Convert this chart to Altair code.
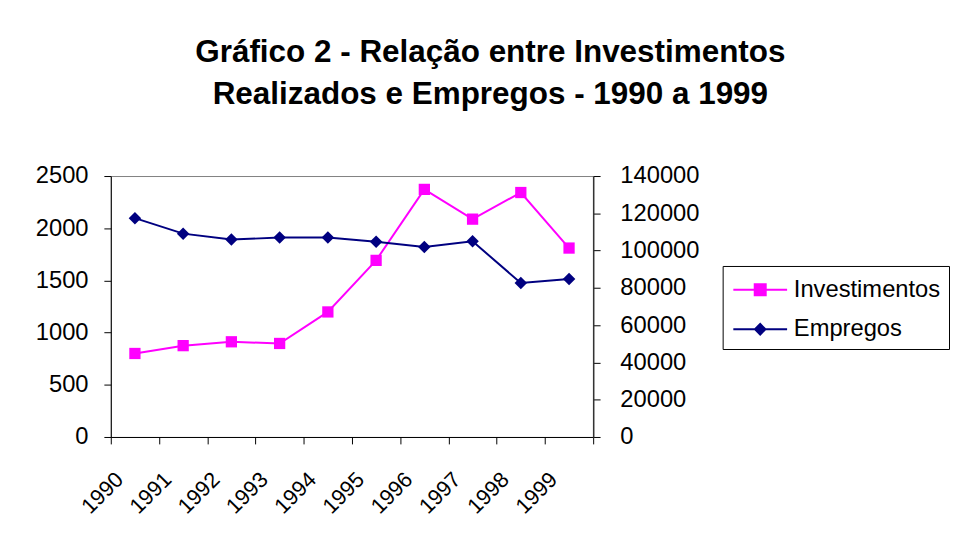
import altair as alt
import pandas as pd

anos = ["1990", "1991", "1992", "1993", "1994", "1995", "1996", "1997", "1998", "1999"]
investimentos = [800, 875, 912, 896, 1198, 1692, 2372, 2087, 2342, 1810]
empregos = [117400, 109100, 105900, 107000, 107000, 104700, 101900, 105000, 82600, 84700]
series = ["Investimentos", "Empregos"]
cores = ["#FF00FF", "#000080"]
ticks_esq = [0, 500, 1000, 1500, 2000, 2500]
ticks_dir = [0, 20000, 40000, 60000, 80000, 100000, 120000, 140000]
titulo = ["Gráfico 2 - Relação entre Investimentos", "Realizados e Empregos - 1990 a 1999"]

FONT = "Liberation Sans, Arial, sans-serif"

df = pd.DataFrame({"ano": anos, "Investimentos": investimentos, "Empregos": empregos})

x_enc = alt.X(
    "ano:O",
    sort=anos,
    bandPosition=0.5,
    scale=alt.Scale(type="band", paddingInner=0, paddingOuter=0),
    axis=alt.Axis(
        title=None,
        tickBand="extent",
        tickSize=7,
        tickColor="black",
        domainColor="black",
        labelAngle=315,
        labelAlign="right",
        labelBaseline="middle",
        labelFontSize=22,
        labelFont=FONT,
        labelColor="black",
        labelPadding=32,
        labelOffset=-16,
        grid=False,
    ),
)

base = alt.Chart(df)

inv = base.mark_line(
    color=cores[0],
    strokeWidth=2,
    point=alt.OverlayMarkDef(filled=True, shape="square", size=130, color=cores[0], opacity=1),
).encode(
    x=x_enc,
    y=alt.Y(
        "Investimentos:Q",
        scale=alt.Scale(domain=[0, 2500], nice=False),
        axis=alt.Axis(
            title=None, values=ticks_esq, format="d", orient="left",
            tickSize=7, tickColor="black", domainColor="black",
            labelFontSize=24, labelFont=FONT, labelColor="black",
            labelPadding=16, grid=False,
        ),
    ),
)

emp = base.mark_line(
    color=cores[1],
    strokeWidth=2,
    point=alt.OverlayMarkDef(filled=True, shape="diamond", size=160, color=cores[1], opacity=1),
).encode(
    x=x_enc,
    y=alt.Y(
        "Empregos:Q",
        scale=alt.Scale(domain=[0, 140000], nice=False),
        axis=alt.Axis(
            title=None, values=ticks_dir, format="d", orient="right",
            tickSize=7, tickColor="black", domainColor="#333333", domainWidth=1.5,
            labelFontSize=24, labelFont=FONT, labelColor="black",
            labelPadding=20, grid=False,
        ),
    ),
)

sym_inv = "M-1.7,-0.0625H1.7V0.0625H-1.7Z M-0.41,-0.41H0.41V0.41H-0.41Z"
sym_emp = "M-1.7,-0.0625H1.7V0.0625H-1.7Z M0,-0.42L0.42,0L0,0.42L-0.42,0Z"

legenda = alt.Legend(
    title=None,
    orient="none",
    legendX=619,
    legendY=91,
    padding=8,
    strokeColor="black",
    fillColor="white",
    symbolSize=1024,
    symbolStrokeWidth=0,
    symbolOffset=14,
    labelOffset=18,
    labelFontSize=24,
    labelFont=FONT,
    labelColor="black",
    labelLimit=400,
    rowPadding=12,
)

leg_df = pd.DataFrame({"serie": series})
leg = alt.Chart(leg_df).mark_point(filled=True, opacity=1).encode(
    color=alt.Color("serie:N", scale=alt.Scale(domain=series, range=cores), legend=legenda),
    shape=alt.Shape("serie:N", scale=alt.Scale(domain=series, range=[sym_inv, sym_emp]), legend=legenda),
).transform_filter("false")

chart = alt.layer(inv, emp, leg).resolve_scale(
    y="independent"
).properties(
    width=488,
    height=264,
    padding={"left": 27, "top": 26, "right": 0, "bottom": 0},
    background="white",
    title=alt.TitleParams(
        text=titulo,
        fontSize=31.8,
        fontWeight="bold",
        font=FONT,
        color="black",
        lineHeight=42,
        anchor="middle",
        dx=140,
        offset=54.5,
        baseline="top",
    ),
).configure_view(stroke="#808080", strokeWidth=1)

chart.save("out.html", embed_options={"renderer": "svg", "actions": False})
